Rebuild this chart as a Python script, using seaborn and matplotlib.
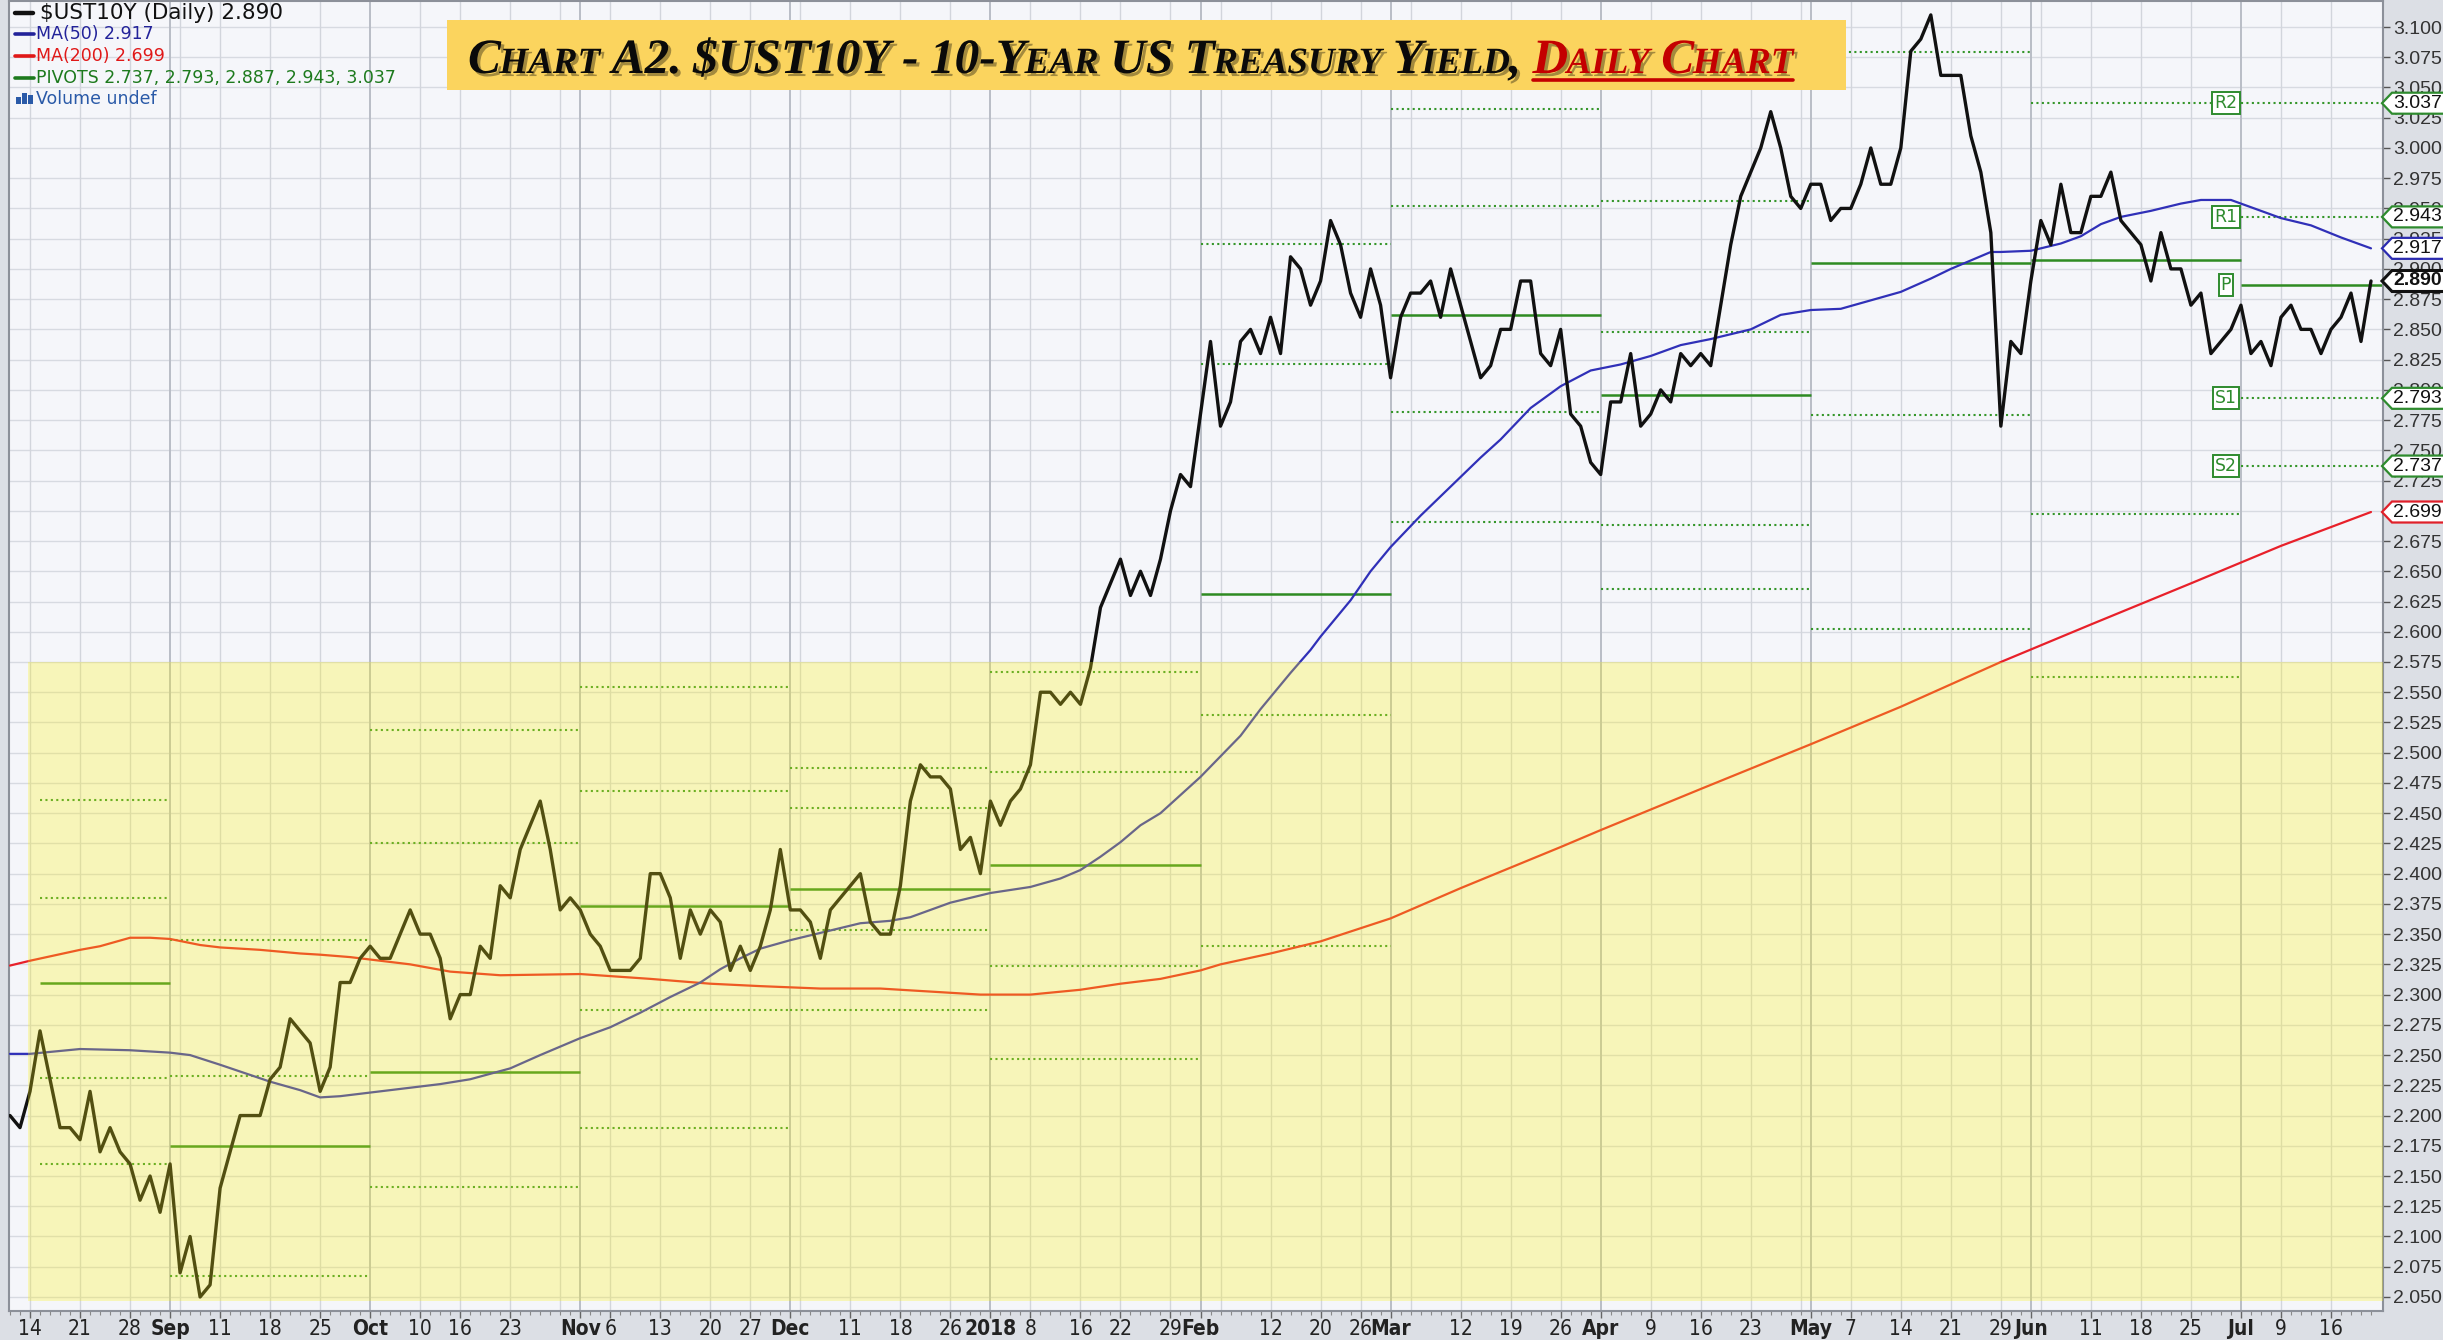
import numpy as np
import pandas as pd
import matplotlib
matplotlib.use("Agg")
import matplotlib.pyplot as plt
import seaborn as sns
from matplotlib import font_manager as fm
import matplotlib.patheffects as pe
from matplotlib.patches import Rectangle, Polygon
from matplotlib.lines import Line2D
from matplotlib.ticker import FormatStrFormatter
from matplotlib.transforms import blended_transform_factory

# ---------------- data ----------------
start_date = "2017-08-10"
end_date = "2018-07-20"
market_holidays = ["2017-09-04", "2017-10-09", "2017-11-23", "2017-12-25", "2018-01-01",
                   "2018-01-15", "2018-02-19", "2018-03-30", "2018-05-28", "2018-07-04"]

y_aug17 = [2.20, 2.19, 2.22, 2.27, 2.23, 2.19, 2.19, 2.18, 2.22, 2.17, 2.19, 2.17, 2.16, 2.13, 2.15, 2.12]
y_sep17 = [2.16, 2.07, 2.10, 2.05, 2.06, 2.14, 2.17, 2.20, 2.20, 2.20, 2.23, 2.24, 2.28, 2.27, 2.26,
           2.22, 2.24, 2.31, 2.31, 2.33]
y_oct17 = [2.34, 2.33, 2.33, 2.35, 2.37, 2.35, 2.35, 2.33, 2.28, 2.30, 2.30, 2.34, 2.33, 2.39,
           2.38, 2.42, 2.44, 2.46, 2.42, 2.37, 2.38]
y_nov17 = [2.37, 2.35, 2.34, 2.32, 2.32, 2.32, 2.33, 2.40, 2.40, 2.38, 2.33, 2.37, 2.35,
           2.37, 2.36, 2.32, 2.34, 2.32, 2.34, 2.37, 2.42]
y_dec17 = [2.37, 2.37, 2.36, 2.33, 2.37, 2.38, 2.39, 2.40, 2.36, 2.35, 2.35, 2.39, 2.46, 2.49,
           2.48, 2.48, 2.47, 2.42, 2.43, 2.40]
y_jan18 = [2.46, 2.44, 2.46, 2.47, 2.49, 2.55, 2.55, 2.54, 2.55, 2.54, 2.57, 2.62, 2.64,
           2.66, 2.63, 2.65, 2.63, 2.66, 2.70, 2.73, 2.72]
y_feb18 = [2.78, 2.84, 2.77, 2.79, 2.84, 2.85, 2.83, 2.86, 2.83, 2.91, 2.90, 2.87,
           2.89, 2.94, 2.92, 2.88, 2.86, 2.90, 2.87]
y_mar18 = [2.81, 2.86, 2.88, 2.88, 2.89, 2.86, 2.90, 2.87, 2.84, 2.81, 2.82, 2.85,
           2.85, 2.89, 2.89, 2.83, 2.82, 2.85, 2.78, 2.77, 2.74]
y_apr18 = [2.73, 2.79, 2.79, 2.83, 2.77, 2.78, 2.80, 2.79, 2.83, 2.82, 2.83, 2.82, 2.87, 2.92, 2.96,
           2.98, 3.00, 3.03, 3.00, 2.96, 2.95]
y_may18 = [2.97, 2.97, 2.94, 2.95, 2.95, 2.97, 3.00, 2.97, 2.97, 3.00, 3.08, 3.09, 3.11, 3.06,
           3.06, 3.06, 3.01, 2.98, 2.93, 2.77, 2.84, 2.83]
y_jun18 = [2.89, 2.94, 2.92, 2.97, 2.93, 2.93, 2.96, 2.96, 2.98, 2.94, 2.93, 2.92, 2.89, 2.93,
           2.90, 2.90, 2.87, 2.88, 2.83, 2.84, 2.85]
y_jul18 = [2.87, 2.83, 2.84, 2.82, 2.86, 2.87, 2.85, 2.85, 2.83, 2.85, 2.86, 2.88, 2.84, 2.89]

ma50_dates = ['2017-08-10','2017-08-14','2017-08-21','2017-08-28','2017-09-01','2017-09-06','2017-09-11',
              '2017-09-18','2017-09-21','2017-09-25','2017-09-27','2017-10-02','2017-10-06','2017-10-12',
              '2017-10-17','2017-10-23','2017-10-26','2017-11-01','2017-11-06','2017-11-09','2017-11-14',
              '2017-11-17','2017-11-21','2017-11-24','2017-11-28','2017-12-01','2017-12-06','2017-12-12',
              '2017-12-15','2017-12-19','2017-12-26','2018-01-02','2018-01-08','2018-01-11','2018-01-16',
              '2018-01-18','2018-01-22','2018-01-24','2018-01-26','2018-01-30','2018-02-01','2018-02-05',
              '2018-02-07','2018-02-09','2018-02-14','2018-02-16','2018-02-20','2018-02-23','2018-02-27',
              '2018-03-01','2018-03-06','2018-03-09','2018-03-14','2018-03-16','2018-03-21','2018-03-26',
              '2018-03-29','2018-04-04','2018-04-09','2018-04-12','2018-04-17','2018-04-23','2018-04-26',
              '2018-05-01','2018-05-04','2018-05-09','2018-05-14','2018-05-17','2018-05-21','2018-05-23',
              '2018-05-25','2018-05-29','2018-06-01','2018-06-06','2018-06-08','2018-06-12','2018-06-14',
              '2018-06-19','2018-06-22','2018-06-26','2018-06-29','2018-07-03','2018-07-09','2018-07-12',
              '2018-07-17','2018-07-20']
ma50_vals = [2.251,2.251,2.255,2.254,2.252,2.250,2.242,2.228,2.221,2.215,2.216,2.219,2.223,2.226,2.230,
             2.239,2.250,2.264,2.273,2.285,2.298,2.310,2.321,2.330,2.338,2.345,2.351,2.359,2.361,2.364,
             2.376,2.384,2.389,2.396,2.403,2.414,2.426,2.440,2.450,2.465,2.480,2.497,2.514,2.536,2.566,
             2.585,2.596,2.626,2.650,2.670,2.696,2.720,2.744,2.759,2.785,2.803,2.816,2.821,2.828,2.837,
             2.842,2.850,2.862,2.866,2.867,2.874,2.881,2.892,2.900,2.907,2.914,2.914,2.915,2.921,2.927,
             2.937,2.943,2.948,2.954,2.957,2.957,2.951,2.942,2.936,2.926,2.917]

ma200_dates = ['2017-08-10','2017-08-14','2017-08-21','2017-08-23','2017-08-28','2017-08-30','2017-09-01',
               '2017-09-07','2017-09-11','2017-09-15','2017-09-21','2017-09-25','2017-09-28','2017-10-02',
               '2017-10-06','2017-10-13','2017-10-20','2017-11-01','2017-11-10','2017-11-20','2017-11-28',
               '2017-12-01','2017-12-06','2017-12-14','2017-12-22','2017-12-29','2018-01-08','2018-01-16',
               '2018-01-22','2018-01-26','2018-02-01','2018-02-05','2018-02-12','2018-02-20','2018-03-01',
               '2018-03-12','2018-03-26','2018-04-02','2018-04-16','2018-05-01','2018-05-14','2018-05-29',
               '2018-06-11','2018-06-25','2018-07-09','2018-07-20']
ma200_vals = [2.324,2.328,2.337,2.340,2.347,2.347,2.346,2.341,2.339,2.337,2.334,2.333,2.331,2.329,2.325,
              2.319,2.316,2.317,2.313,2.309,2.307,2.306,2.305,2.305,2.302,2.300,2.300,2.304,2.309,2.313,
              2.320,2.325,2.334,2.344,2.363,2.388,2.422,2.436,2.470,2.507,2.538,2.575,2.606,2.640,2.671,
              2.699]

pivot_starts = ['2017-08-15','2017-09-01','2017-10-02','2017-11-01','2017-12-01','2018-01-02',
                '2018-02-01','2018-03-01','2018-04-02','2018-05-01','2018-06-01','2018-07-02']
pivot_R2 = [2.461, 2.345, 2.519, 2.554, 2.487, 2.567, 2.921, 3.032, 2.956, 3.203, 3.243, 3.037]
pivot_R1 = [2.380, 2.233, 2.425, 2.468, 2.454, 2.484, 2.821, 2.952, 2.848, 3.079, 3.037, 2.943]
pivot_P  = [2.310, 2.175, 2.236, 2.373, 2.387, 2.407, 2.631, 2.862, 2.796, 2.905, 2.907, 2.887]
pivot_S1 = [2.231, 2.067, 2.141, 2.287, 2.353, 2.324, 2.531, 2.782, 2.688, 2.779, 2.697, 2.793]
pivot_S2 = [2.160, 2.009, 1.953, 2.190, 2.287, 2.247, 2.340, 2.691, 2.635, 2.602, 2.563, 2.737]

tick_dates = ['2017-08-14','2017-08-21','2017-08-28','2017-09-01','2017-09-11','2017-09-18','2017-09-25',
              '2017-10-02','2017-10-10','2017-10-16','2017-10-23','2017-11-01','2017-11-06','2017-11-13',
              '2017-11-20','2017-11-27','2017-12-01','2017-12-11','2017-12-18','2017-12-26','2018-01-02',
              '2018-01-08','2018-01-16','2018-01-22','2018-01-29','2018-02-01','2018-02-12','2018-02-20',
              '2018-02-26','2018-03-01','2018-03-12','2018-03-19','2018-03-26','2018-04-02','2018-04-09',
              '2018-04-16','2018-04-23','2018-05-01','2018-05-07','2018-05-14','2018-05-21','2018-05-29',
              '2018-06-01','2018-06-11','2018-06-18','2018-06-25','2018-07-02','2018-07-09','2018-07-16']
tick_labels = ['14','21','28','Sep','11','18','25','Oct','10','16','23','Nov','6','13','20','27','Dec',
               '11','18','26','2018','8','16','22','29','Feb','12','20','26','Mar','12','19','26','Apr',
               '9','16','23','May','7','14','21','29','Jun','11','18','25','Jul','9','16']

last_tags = [(3.037, '#2e8b2e', False), (2.943, '#2e8b2e', False), (2.917, '#2b2bb0', False),
             (2.890, '#111111', True), (2.793, '#2e8b2e', False), (2.737, '#2e8b2e', False),
             (2.699, '#e0202a', False)]
pivot_tag_names = ['R2', 'R1', 'P', 'S1', 'S2']
legend_lines = [("$UST10Y (Daily) 2.890", '#111111'), ("MA(50) 2.917", '#23239a'),
                ("MA(200) 2.699", '#e01818'), ("PIVOTS 2.737, 2.793, 2.887, 2.943, 3.037", '#1d7a1d'),
                ("Volume undef", '#2a5aa8')]
title_black = "Chart A2. $UST10Y - 10-Year US Treasury Yield, "
title_red = "Daily Chart"

# ---------------- setup ----------------
sns.set_theme(style="white")
plt.rcParams['font.family'] = ['Liberation Sans', 'DejaVu Sans']

W, H, DPI = 2443, 1340, 100
fig = plt.figure(figsize=(W / DPI, H / DPI), dpi=DPI, facecolor='#dcdfe5')
ax = fig.add_axes([9 / W, 29 / H, (2383 - 9) / W, (1339 - 29) / H])
ax.set_facecolor('#f5f6fa')

dates = pd.bdate_range(start_date, end_date, freq='C', holidays=market_holidays)
yields = y_aug17 + y_sep17 + y_oct17 + y_nov17 + y_dec17 + y_jan18 + y_feb18 + y_mar18 + y_apr18 + y_may18 + y_jun18 + y_jul18
assert len(dates) == len(yields), (len(dates), len(yields))
pos = {d: i for i, d in enumerate(dates)}


def idx(s):
    return pos[pd.Timestamp(s)]


XMAX = 237.2
ax.set_xlim(-0.1, XMAX)
ax.set_ylim(2.0384, 3.1215)

# grid
yt = np.round(np.arange(2.050, 3.1001, 0.025), 3)
ax.set_yticks(yt)
ax.yaxis.grid(True, color='#d7dae1', lw=1.0)
ax.set_axisbelow(True)
wk = dates.to_period('W')
week_starts = [i for i in range(1, len(dates)) if wk[i] != wk[i - 1]]
month_starts = [i for i in range(1, len(dates)) if dates[i].month != dates[i - 1].month]
for i in week_starts:
    if i not in month_starts:
        ax.axvline(i, color='#d2d5dc', lw=1.0, zorder=0.6)
for i in month_starts:
    ax.axvline(i, color='#b9bdc6', lw=1.4, zorder=0.6)

# pivots
green = '#2e8b22'
ends = [idx(s) for s in pivot_starts[1:]] + [XMAX]
for k, s in enumerate(pivot_starts):
    x0, x1 = idx(s), ends[k]
    ax.hlines(pivot_P[k], x0, x1, colors=green, lw=1.8, zorder=2)
    for arr in (pivot_R2, pivot_R1, pivot_S1, pivot_S2):
        ax.hlines(arr[k], x0, x1, colors='#35962a', lw=1.5, linestyles=(0, (1.0, 1.6)), zorder=2)

# moving averages and price
df_ma50 = pd.DataFrame({'x': [idx(d) for d in ma50_dates], 'y': ma50_vals})
df_ma200 = pd.DataFrame({'x': [idx(d) for d in ma200_dates], 'y': ma200_vals})
df_px = pd.DataFrame({'x': np.arange(len(dates)), 'y': yields})
sns.lineplot(data=df_ma200, x='x', y='y', ax=ax, color='#e8202a', lw=1.6, zorder=3)
sns.lineplot(data=df_ma50, x='x', y='y', ax=ax, color='#3030b8', lw=1.6, zorder=3)
sns.lineplot(data=df_px, x='x', y='y', ax=ax, color='#111111', lw=2.4, zorder=4)
ax.set_xlabel('')
ax.set_ylabel('')

# yellow overlay
ax.add_patch(Rectangle((1.8, 2.0467), XMAX - 1.8, 2.575 - 2.0467, facecolor='#fef312',
                       alpha=0.28, lw=0, zorder=5))

# pivot name boxes
jul = idx('2018-07-02')
for name, val in zip(pivot_tag_names, [pivot_R2[-1], pivot_R1[-1], pivot_P[-1], pivot_S1[-1], pivot_S2[-1]]):
    ax.text(jul - 1.5, val, name, fontsize=12.5, color='#2e8b2e', ha='center', va='center', zorder=7,
            family='DejaVu Sans',
            bbox=dict(boxstyle='square,pad=0.12', facecolor='white', edgecolor='#2e8b2e', lw=1.4))

# axes styling
ax.yaxis.tick_right()
ax.yaxis.set_major_formatter(FormatStrFormatter('%.3f'))
ax.tick_params(axis='y', which='major', direction='out', length=5, width=1, color='#555555',
               labelsize=14, labelcolor='#333333', pad=2, right=True, left=False)
for sp in ax.spines.values():
    sp.set_color('#8c9099')
    sp.set_linewidth(1.5)

names = {f.name for f in fm.fontManager.ttflist}
if 'Liberation Sans Narrow' in names:
    xfam, xsize, xstretch = 'Liberation Sans Narrow', 17, 'normal'
elif any(f.name == 'DejaVu Sans' and f.stretch == 'condensed' for f in fm.fontManager.ttflist):
    xfam, xsize, xstretch = 'DejaVu Sans', 15, 'condensed'
else:
    xfam, xsize, xstretch = 'Liberation Sans', 15, 'normal'

ax.set_xticks([idx(d) for d in tick_dates])
ax.set_xticks(np.arange(len(dates)), minor=True)
ax.set_xticklabels(tick_labels)
ax.tick_params(axis='x', which='major', direction='out', length=5, width=1, color='#666666', pad=1,
               bottom=True)
ax.tick_params(axis='x', which='minor', direction='out', length=3, width=0.8, color='#8a8a8a',
               bottom=True)
for t in ax.get_xticklabels():
    lab = t.get_text()
    t.set_fontfamily(xfam)
    t.set_fontsize(xsize)
    t.set_fontstretch(xstretch)
    t.set_color('#222222')
    if (not lab.isdigit()) or lab == '2018':
        t.set_fontweight('bold')

# right value tags
bt = blended_transform_factory(ax.transAxes, ax.transData)
axw = 2383 - 9
hh = 10.5 / 1209.5
for val, col, bold in last_tags:
    tip = 1.0 - 1 / axw
    x1 = 1.0 + 9 / axw
    x2 = 1.0 + 70 / axw
    poly = Polygon([(tip, val), (x1, val + hh), (x2, val + hh), (x2, val - hh), (x1, val - hh)],
                   closed=True, transform=bt, facecolor='white', edgecolor=col,
                   lw=2.2 if bold else 1.6, clip_on=False, zorder=8)
    ax.add_patch(poly)
    ax.text(1.0 + 10 / axw, val, f"{val:.3f}", transform=bt, fontsize=14, ha='left', va='center',
            color='#111111', fontweight='bold' if bold else 'normal', clip_on=False, zorder=9)

# legend text at top-left
ys = [13, 34, 56, 78, 99]
for k, ((txt, col), yy) in enumerate(zip(legend_lines, ys)):
    fs = 15.5 if k == 0 else 12.5
    xt = 40 if k == 0 else 36
    fig.text(xt / W, 1 - yy / H, txt, fontsize=fs, color=col, va='center', ha='left',
             family='DejaVu Sans', zorder=10)
    if k < 4:
        fig.add_artist(Line2D([15 / W, (33 if k == 0 else 34) / W], [1 - yy / H] * 2,
                              color=col, lw=3.2 if k == 0 else 2.6, zorder=10))
    else:
        for j, hgt in enumerate([7, 11, 9]):
            fig.add_artist(Rectangle(((16 + j * 6) / W, (H - yy - 5) / H), 4.5 / W, hgt / H,
                                     facecolor=col, lw=0, transform=fig.transFigure, zorder=10))

# title box
fig.add_artist(Rectangle((447 / W, 1 - 90 / H), (1846 - 447) / W, 70 / H, facecolor='#fbd45e',
                         lw=0, transform=fig.transFigure, zorder=9))

renderer = fig.canvas.get_renderer()
shadow = [pe.withSimplePatchShadow(offset=(2.2, -2.2), shadow_rgbFace='#000000', alpha=0.35)]


def make_runs(parts):
    items = []
    for s, color, group in parts:
        runs = []
        for ch in s:
            kind = 'sp' if ch == ' ' else ('lo' if ch.islower() else 'up')
            if runs and runs[-1][0] == kind:
                runs[-1][1] += ch
            else:
                runs.append([kind, ch])
        for kind, txt in runs:
            items.append((kind, txt, color, group))
    return items


def draw_title(items, x0, ybase, big, small):
    x = x0
    arts = []
    spans = {}
    for kind, txt, color, group in items:
        if kind == 'sp':
            x += big * DPI / 72 * 0.26 * len(txt)
            continue
        size = small if kind == 'lo' else big
        t = fig.text(x / W, ybase / H, txt.upper(), fontsize=size, family='Liberation Serif',
                     weight='bold', style='italic', color=color, ha='left', va='baseline',
                     zorder=12, path_effects=shadow)
        bb = t.get_window_extent(renderer)
        lo, hi = spans.get(group, (x, x))
        spans[group] = (min(lo, x), bb.x1)
        x = bb.x1 - size * DPI / 72 * 0.03
        arts.append(t)
    return x, arts, spans


items = make_runs([(title_black, '#0a0a0a', 'k'), (title_red, '#c40000', 'r')])
xstart, ybase = 468, H - 73
big, small = 36, 27
xe, arts, spans = draw_title(items, xstart, ybase, big, small)
scale = (1792 - xstart) / (xe - xstart)
for a in arts:
    a.remove()
xe, arts, spans = draw_title(items, xstart, ybase, big * scale, small * scale)
r0, r1 = spans['r']
fig.add_artist(Line2D([r0 / W, r1 / W], [(H - 80) / H] * 2, color='#c40000', lw=2.6, zorder=12))

fig.savefig('out.png', dpi=DPI, facecolor=fig.get_facecolor())
